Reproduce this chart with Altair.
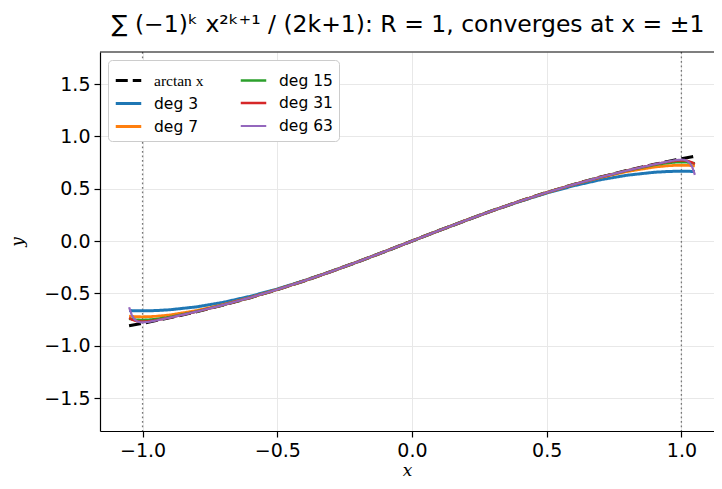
import altair as alt
import pandas as pd

# ---- data ----
X = [-1.05, -1.04, -1.03, -1.02, -1.01, -1.0, -0.98, -0.95, -0.9, -0.8, -0.7, -0.6,
     -0.5, -0.4, -0.3, -0.2, -0.1, 0.0, 0.1, 0.2, 0.3, 0.4, 0.5, 0.6, 0.7, 0.8,
     0.9, 0.95, 0.98, 1.0, 1.01, 1.02, 1.03, 1.04, 1.05]

ARCTAN = [-0.8098, -0.8050, -0.8002, -0.7953, -0.7904, -0.7854, -0.7753, -0.7598, -0.7328,
          -0.6747, -0.6107, -0.5404, -0.4636, -0.3805, -0.2915, -0.1974, -0.0997, 0.0,
          0.0997, 0.1974, 0.2915, 0.3805, 0.4636, 0.5404, 0.6107, 0.6747, 0.7328, 0.7598,
          0.7753, 0.7854, 0.7904, 0.7953, 0.8002, 0.8050, 0.8098]

DEG3 = [-0.6641, -0.6650, -0.6658, -0.6663, -0.6666, -0.6667, -0.6663, -0.6642, -0.6570,
        -0.6293, -0.5857, -0.5280, -0.4583, -0.3787, -0.2910, -0.1973, -0.0997, 0.0,
        0.0997, 0.1973, 0.2910, 0.3787, 0.4583, 0.5280, 0.5857, 0.6293, 0.6570, 0.6642,
        0.6663, 0.6667, 0.6666, 0.6663, 0.6658, 0.6650, 0.6641]

DEG7 = [-0.7184, -0.7204, -0.7219, -0.7230, -0.7236, -0.7238, -0.7230, -0.7192, -0.7068,
        -0.6649, -0.6075, -0.5396, -0.4635, -0.3805, -0.2915, -0.1974, -0.0997, 0.0,
        0.0997, 0.1974, 0.2915, 0.3805, 0.4635, 0.5396, 0.6075, 0.6649, 0.7068, 0.7192,
        0.7230, 0.7238, 0.7236, 0.7230, 0.7219, 0.7204, 0.7184]

DEG15 = [-0.7418, -0.7466, -0.7502, -0.7525, -0.7538, -0.7543, -0.7527, -0.7461, -0.7271,
         -0.6738, -0.6106, -0.5404, -0.4636, -0.3805, -0.2915, -0.1974, -0.0997, 0.0,
         0.0997, 0.1974, 0.2915, 0.3805, 0.4636, 0.5404, 0.6106, 0.6738, 0.7271, 0.7461,
         0.7527, 0.7543, 0.7538, 0.7525, 0.7502, 0.7466, 0.7418]

DEG31 = [-0.7355, -0.7503, -0.7600, -0.7659, -0.7689, -0.7698, -0.7671, -0.7568, -0.7323,
         -0.6747, -0.6107, -0.5404, -0.4636, -0.3805, -0.2915, -0.1974, -0.0997, 0.0,
         0.0997, 0.1974, 0.2915, 0.3805, 0.4636, 0.5404, 0.6107, 0.6747, 0.7323, 0.7568,
         0.7671, 0.7698, 0.7689, 0.7659, 0.7600, 0.7503, 0.7355]

DEG63 = [-0.6328, -0.7090, -0.7484, -0.7676, -0.7756, -0.7776, -0.7732, -0.7595, -0.7328,
         -0.6747, -0.6107, -0.5404, -0.4636, -0.3805, -0.2915, -0.1974, -0.0997, 0.0,
         0.0997, 0.1974, 0.2915, 0.3805, 0.4636, 0.5404, 0.6107, 0.6747, 0.7328, 0.7595,
         0.7732, 0.7776, 0.7756, 0.7676, 0.7484, 0.7090, 0.6328]

SERIES = ["arctan x", "deg 3", "deg 7", "deg 15", "deg 31", "deg 63"]
VALUES = [ARCTAN, DEG3, DEG7, DEG15, DEG31, DEG63]
VLINES = [-1.0, 1.0]
X_TICKS = [-1.0, -0.5, 0.0, 0.5, 1.0]
Y_TICKS = [-1.5, -1.0, -0.5, 0.0, 0.5, 1.0, 1.5]

COLORS = {"arctan x": "#000000", "deg 3": "#1f77b4", "deg 7": "#ff7f0e",
          "deg 15": "#2ca02c", "deg 31": "#d62728", "deg 63": "#9467bd"}
DASHES = {s: ([12, 5] if s == "arctan x" else [1, 0]) for s in SERIES}
WIDTHS = {s: (3.2 if s == "arctan x" else 2.2) for s in SERIES}

rows = []
for name, ys in zip(SERIES, VALUES):
    for i, (xv, yv) in enumerate(zip(X, ys)):
        rows.append({"series": name, "x": xv, "y": yv, "i": i})
df = pd.DataFrame(rows)

W, H = 614, 379
XDOM = [-1.158, 1.121]
YDOM = [-1.815, 1.806]

legend = alt.Legend(
    title=None, orient="none", legendX=8, legendY=8, columns=2,
    symbolType="stroke", symbolSize=650, labelFontSize=15.5,
    labelFont=alt.ExprRef("datum.label == 'arctan x' ? 'Liberation Serif' : 'DejaVu Sans'"),
    labelColor="black", padding=6, rowPadding=0, columnPadding=31, labelOffset=11,
    strokeColor="#cccccc", fillColor="white", cornerRadius=4, symbolOpacity=1,
)

xenc = alt.X("x:Q", scale=alt.Scale(domain=XDOM, nice=False, zero=False),
             axis=alt.Axis(values=X_TICKS, format=".1f", title="x"))
yenc = alt.Y("y:Q", scale=alt.Scale(domain=YDOM, nice=False, zero=False),
             axis=alt.Axis(values=Y_TICKS, format=".1f", title="y"))
color = alt.Color("series:N", scale=alt.Scale(domain=SERIES, range=[COLORS[s] for s in SERIES]),
                  legend=legend)
dash = alt.StrokeDash("series:N", scale=alt.Scale(domain=SERIES, range=[DASHES[s] for s in SERIES]),
                      legend=legend)
width = alt.StrokeWidth("series:N", scale=alt.Scale(domain=SERIES, range=[WIDTHS[s] for s in SERIES]),
                        legend=legend)

vl = alt.Chart(pd.DataFrame({"x": VLINES})).mark_rule(
    color="#777777", strokeWidth=1.3, strokeDash=[1.7, 2.8]
).encode(x=alt.X("x:Q", scale=alt.Scale(domain=XDOM, nice=False, zero=False)))

layers = [vl]
for s in SERIES:
    layers.append(
        alt.Chart(df).transform_filter(alt.datum.series == s).mark_line(clip=True).encode(
            x=xenc, y=yenc, color=color, strokeDash=dash, strokeWidth=width, order="i:Q"
        )
    )

top = alt.Chart(pd.DataFrame({"a": [0]})).mark_rule(color="black", strokeWidth=1.2).encode(
    x=alt.value(0), x2=alt.value(W), y=alt.value(0)
)
layers.append(top)

chart = alt.layer(*layers).properties(
    width=W, height=H,
    autosize=alt.AutoSizeParams(type="none"),
    padding={"left": 92, "top": 44, "right": 0, "bottom": 50},
    title=alt.TitleParams(
        "∑ (−1)ᵏ x²ᵏ⁺¹ / (2k+1):  R = 1, converges at  x = ±1",
        fontSize=23.5, font="DejaVu Sans", fontWeight="normal", color="black",
        anchor="middle", baseline="alphabetic", offset=17, frame="group", dy=21, dx=1,
    ),
).configure_view(stroke=None).configure_axis(
    domainColor="black", domainWidth=1.2, tickColor="black", tickSize=6, tickWidth=1.2,
    labelFont="DejaVu Sans", labelFontSize=19, labelColor="black", labelPadding=4,
    gridColor="#e8e8e8", gridWidth=1,
    titleFont="DejaVu Serif", titleFontStyle="italic", titleFontWeight="normal",
    titleFontSize=17, titleColor="black",
).configure_axisX(titlePadding=2).configure_axisY(titlePadding=17)

chart.save("out.html", embed_options={"renderer": "svg", "actions": False})
